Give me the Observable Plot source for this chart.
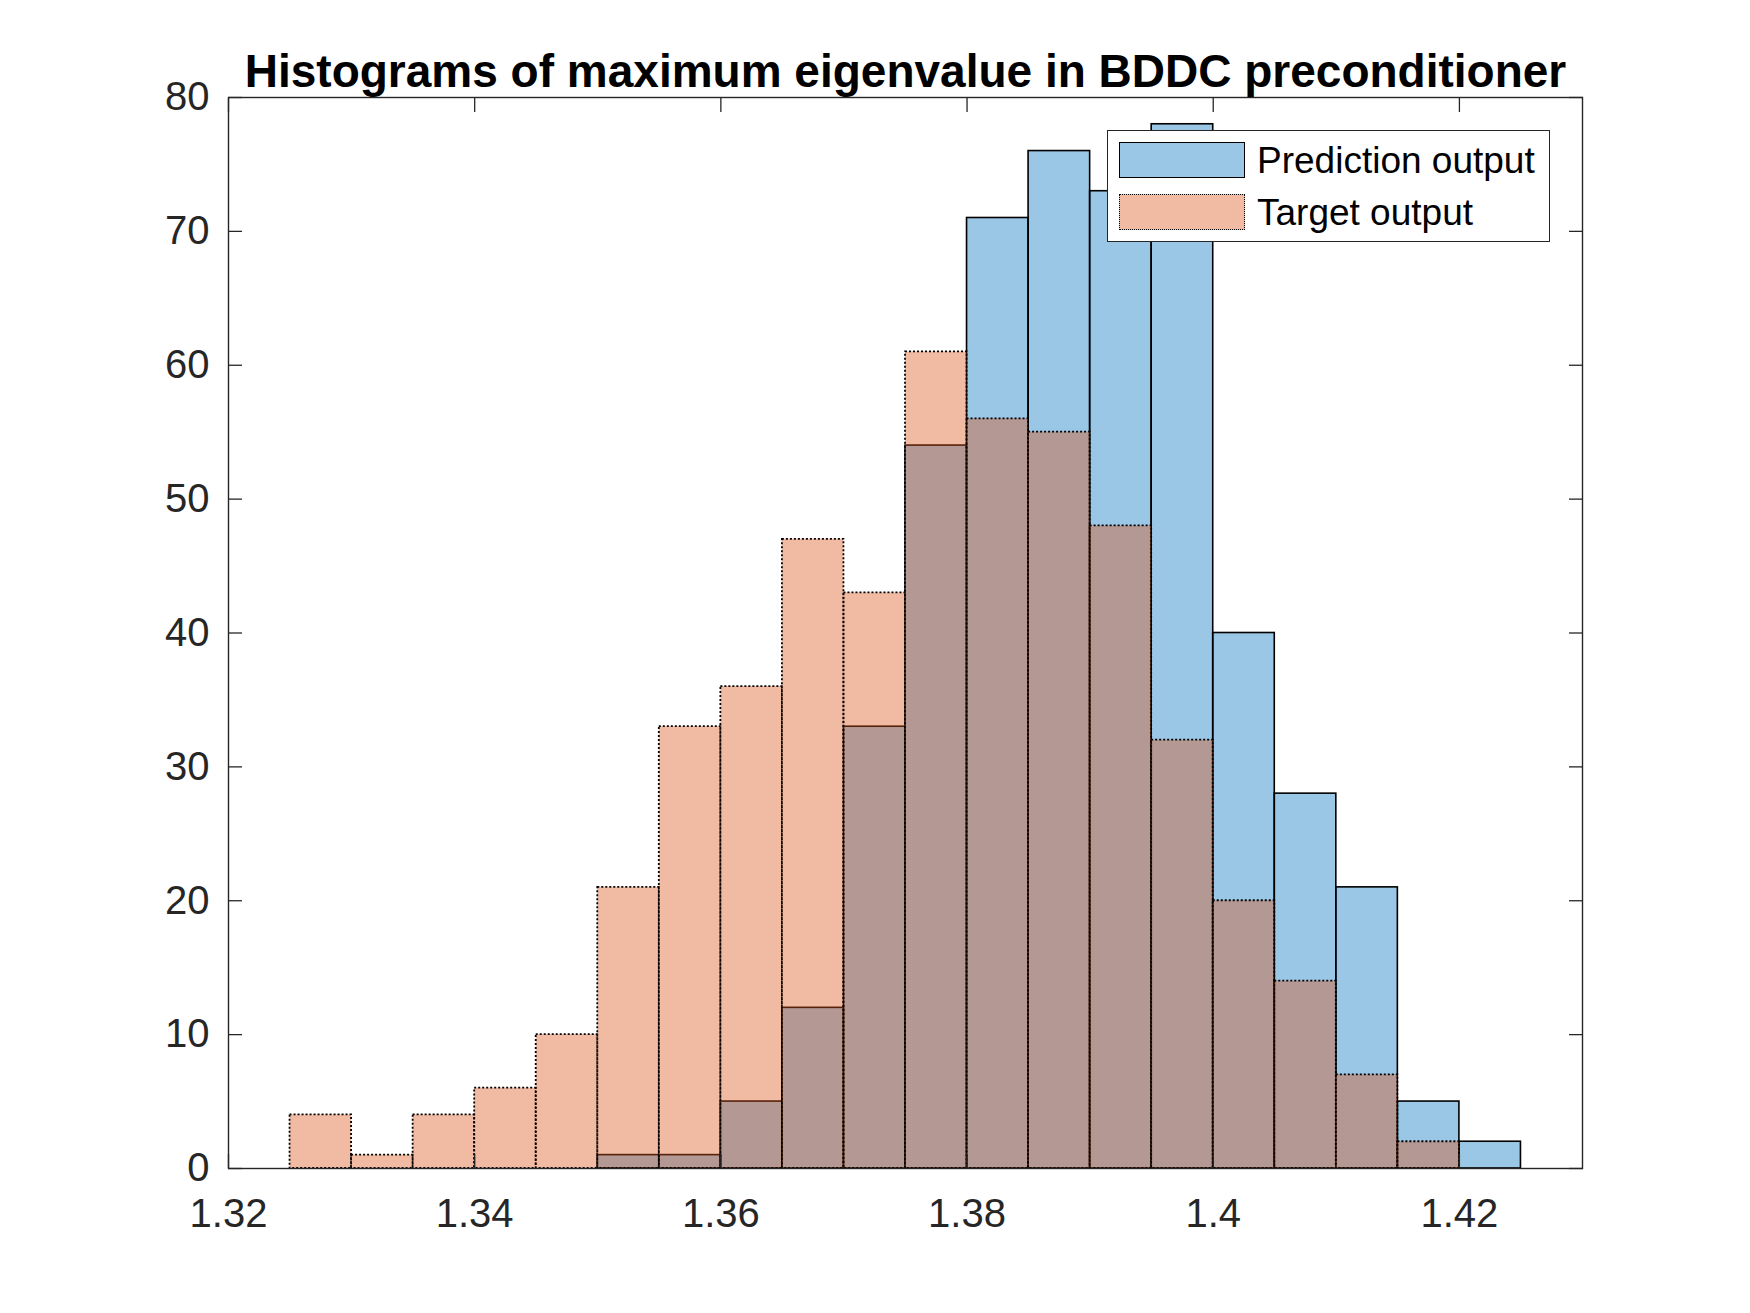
<!DOCTYPE html>
<html>
<head>
<meta charset="utf-8">
<script src="https://cdn.jsdelivr.net/npm/d3@7"></script>
<script src="https://cdn.jsdelivr.net/npm/@observablehq/plot@0.6"></script>
<style>
  body { margin: 0; background: white; }
  #wrap { position: relative; width: 1750px; height: 1313px; font-family: "Liberation Sans", Arial, Helvetica, sans-serif; }
  #legend { position: absolute; left: 1107px; top: 130px; width: 441px; height: 110px; background: white; border: 1.5px solid #262626; }
  .sw { position: absolute; left: 11px; width: 124px; height: 34px; }
  .lt { position: absolute; left: 149px; font-size: 37px; color: #000; line-height: 37px; white-space: nowrap; }
</style>
</head>
<body>
<div id="wrap"></div>
<script>
const titleText = "Histograms of maximum eigenvalue in BDDC preconditioner";
const binEdges = [1.325, 1.330, 1.335, 1.340, 1.345, 1.350, 1.355, 1.360, 1.365, 1.370, 1.375,
                  1.380, 1.385, 1.390, 1.395, 1.400, 1.405, 1.410, 1.415, 1.420, 1.425];
const predictionCounts = [0, 0, 0, 0, 0, 1, 1, 5, 12, 33, 54, 71, 76, 73, 78, 40, 28, 21, 5, 2];
const targetCounts     = [4, 1, 4, 6, 10, 21, 33, 36, 47, 43, 61, 56, 55, 48, 32, 20, 14, 7, 2, 0];
const xTicks = [1.32, 1.34, 1.36, 1.38, 1.40, 1.42];
const xTickLabels = ["1.32", "1.34", "1.36", "1.38", "1.4", "1.42"];
const yTicks = [0, 10, 20, 30, 40, 50, 60, 70, 80];
const seriesNames = ["Prediction output", "Target output"];

const toBins = counts => counts.map((c, i) => ({x1: binEdges[i], x2: binEdges[i + 1], count: c})).filter(d => d.count > 0);
const predBins = toBins(predictionCounts);
const targetBins = toBins(targetCounts);

const axisColor = "#262626";
const chart = Plot.plot({
  width: 1750,
  height: 1313,
  marginLeft: 228,
  marginRight: 168,
  marginTop: 97,
  marginBottom: 145,
  style: {fontFamily: '"Liberation Sans", Arial, Helvetica, sans-serif', fontSize: "40px", color: axisColor, background: "white"},
  x: {domain: [1.32, 1.43]},
  y: {domain: [0, 80]},
  marks: [
    Plot.rect(predBins, {x1: "x1", x2: "x2", y1: 0, y2: "count", fill: "#0072BD", fillOpacity: 0.4, stroke: "#000", strokeWidth: 1.6}),
    Plot.rect(targetBins, {x1: "x1", x2: "x2", y1: 0, y2: "count", fill: "#D95319", fillOpacity: 0.4, stroke: "#000", strokeWidth: 1.8, strokeDasharray: "2,2"}),
    Plot.axisX({ticks: xTicks, tickFormat: (d, i) => xTickLabels[i], tickSize: 0, tickPadding: 30, fontSize: 40, label: null, fill: axisColor}),
    Plot.axisX({ticks: xTicks, tickFormat: () => "", tickSize: -14, label: null, stroke: axisColor, strokeWidth: 1.3}),
    Plot.axisX({anchor: "top", ticks: xTicks, tickFormat: () => "", tickSize: -14, label: null, stroke: axisColor, strokeWidth: 1.3}),
    Plot.axisY({ticks: yTicks, tickSize: 0, tickPadding: 19, fontSize: 40, label: null, fill: axisColor}),
    Plot.axisY({ticks: yTicks, tickFormat: () => "", tickSize: -14, label: null, stroke: axisColor, strokeWidth: 1.3}),
    Plot.axisY({anchor: "right", ticks: yTicks, tickFormat: () => "", tickSize: -14, label: null, stroke: axisColor, strokeWidth: 1.3}),
    Plot.frame({stroke: axisColor, strokeWidth: 1.4}),
    Plot.text([titleText], {frameAnchor: "top", lineAnchor: "bottom", dy: -11, fontSize: 46, fontWeight: "bold", fill: "#000"})
  ]
});
const wrap = document.getElementById("wrap");
wrap.appendChild(chart);

const legend = document.createElement("div");
legend.id = "legend";
legend.innerHTML = `
  <div class="sw" style="top:11px;background:rgba(0,114,189,0.4);border:1.6px solid #000;"></div>
  <div class="lt" style="top:11px;">${seriesNames[0]}</div>
  <div class="sw" style="top:63px;background:rgba(217,83,25,0.4);border:1.6px dotted #000;"></div>
  <div class="lt" style="top:63px;">${seriesNames[1]}</div>`;
wrap.appendChild(legend);
</script>
</body>
</html>
